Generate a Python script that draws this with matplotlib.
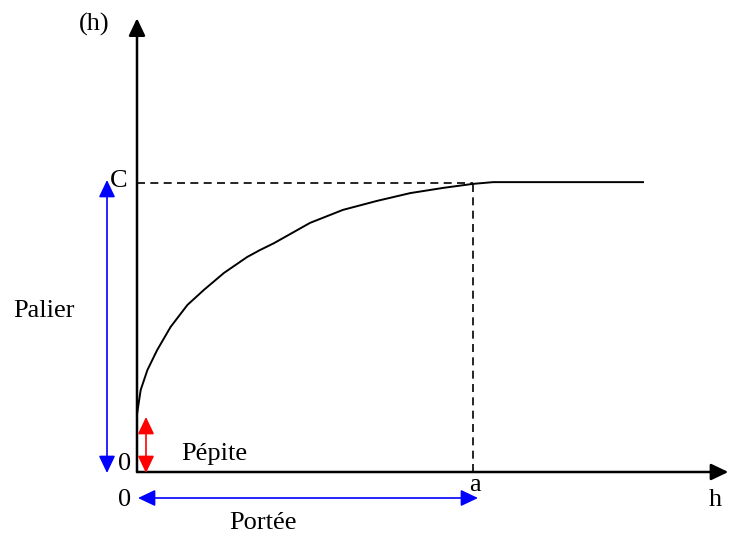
import matplotlib
matplotlib.use("Agg")
import matplotlib.pyplot as plt
from matplotlib.patches import FancyArrowPatch

# variogram sketch: range a = 10, sill C = 10, nugget ~ 2
SILL = 10.0
RANGE = 10.0

h_vals = [0.0, 0.11, 0.31, 0.60, 1.00, 1.50, 1.99, 2.59, 3.28, 3.66, 4.08,
          5.15, 6.13, 7.14, 8.13, 9.11, 10.0, 10.6, 15.06]
gamma_vals = [2.0, 2.84, 3.53, 4.22, 5.02, 5.78, 6.30, 6.89, 7.44, 7.68, 7.92,
              8.62, 9.07, 9.38, 9.65, 9.83, 9.97, 10.03, 10.03]

X_AXIS_END = 17.6
Y_AXIS_END = 15.7

BLUE = "#0000FF"
RED = "#FF0000"
FONT = "Liberation Serif"

# scale of the picture (px per data unit) and origin in px
SX, SY = 33.6, 28.9
OX, OY = 137, 472


def X(px):
    return (px - OX) / SX


def Y(py):
    return (OY - py) / SY


def arrow(ax, p0, p1, color, style="<|-|>", lw=1.2):
    a = FancyArrowPatch(p0, p1, arrowstyle=f"{style},head_length=10.5,head_width=5",
                        mutation_scale=1, color=color, lw=lw,
                        shrinkA=0, shrinkB=0, zorder=3)
    ax.add_patch(a)


fig = plt.figure(figsize=(7.29, 5.35), dpi=100)
ax = fig.add_axes([0, 0, 1, 1])
ax.set_xlim(X(0), X(729))
ax.set_ylim(Y(535), Y(0))
ax.axis("off")

# curve
ax.plot(h_vals, gamma_vals, color="black", lw=1.4, zorder=2,
        solid_joinstyle="round")

# dashed guides
ax.plot([0, RANGE], [SILL, SILL], color="black", lw=1.2,
        linestyle=(0, (4.8, 3.2)))
ax.plot([RANGE, RANGE], [0, SILL], color="black", lw=1.2,
        linestyle=(0, (4.8, 3.2)))

# axes with arrows
arrow(ax, (0, 0), (X_AXIS_END, 0), "black", style="-|>", lw=1.8)
arrow(ax, (0, 0), (0, Y_AXIS_END), "black", style="-|>", lw=1.8)

# palier, pépite, portée
arrow(ax, (X(107), Y(473)), (X(107), Y(180)), BLUE)
arrow(ax, (X(146), Y(473)), (X(146), Y(417)), RED)
arrow(ax, (X(138), Y(498)), (X(478), Y(498)), BLUE)

fs = 19
txt = dict(fontsize=fs, family=FONT, color="black")
ax.text(X(94), Y(24), "(h)", ha="center", va="center", **txt)
ax.text(X(119), Y(181), "C", ha="center", va="center", **txt)
ax.text(X(125), Y(464), "0", ha="center", va="center", **txt)
ax.text(X(125), Y(500), "0", ha="center", va="center", **txt)
ax.text(X(475), Y(485), "a", ha="center", va="center", **txt)
ax.text(X(715), Y(500), "h", ha="center", va="center", **txt)
ax.text(X(13), Y(317), "Palier", ha="left", va="baseline", **txt)
ax.text(X(181), Y(460), "Pépite", ha="left", va="baseline", **txt)
ax.text(X(229), Y(529), "Portée", ha="left", va="baseline", **txt)

fig.savefig("out.png", dpi=100)
